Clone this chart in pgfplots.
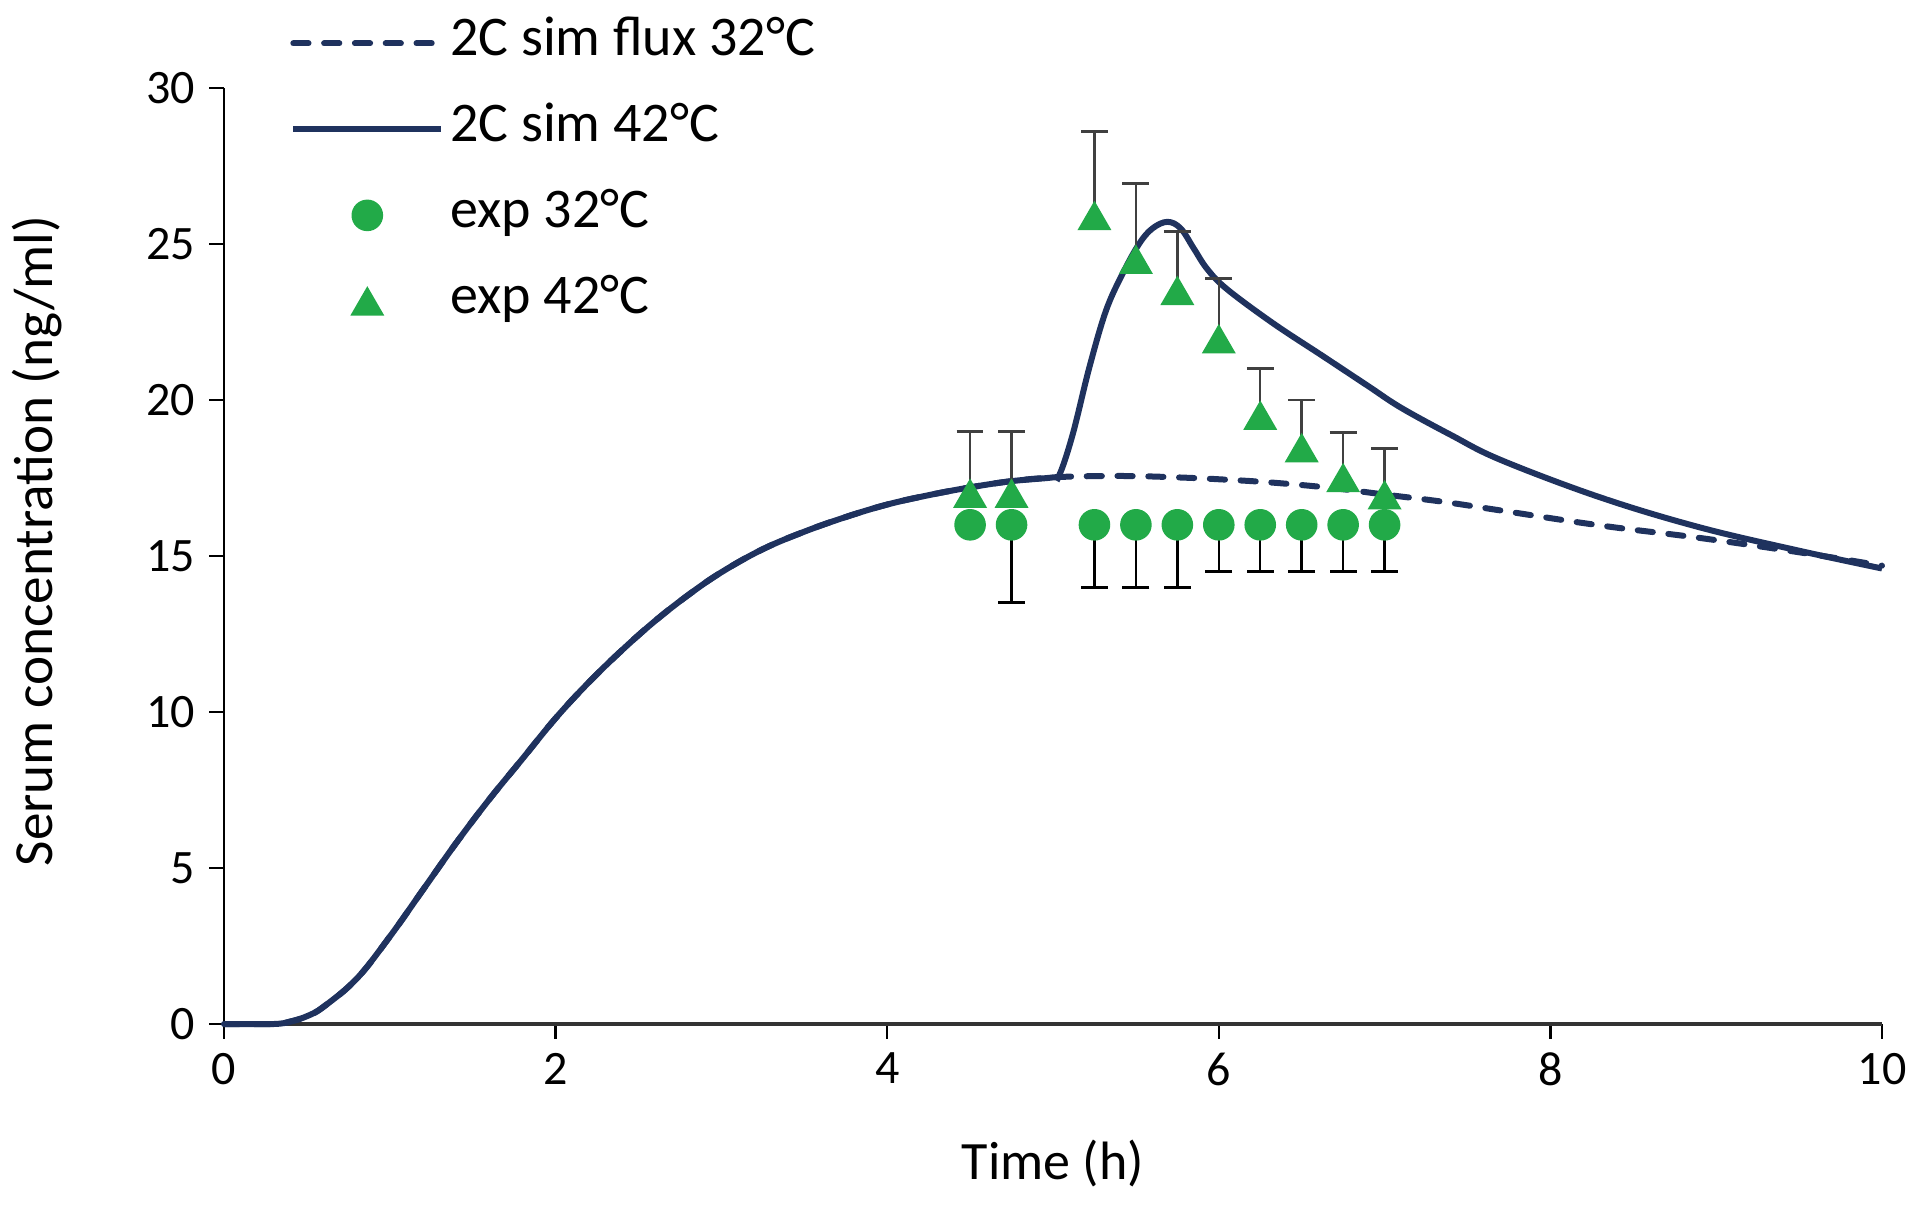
\documentclass[border=0pt]{standalone}
\usepackage{fontspec}
\setmainfont{Carlito}
\usepackage{pgfplots}
\pgfplotsset{compat=1.18}
\definecolor{navy}{RGB}{31,50,94}
\definecolor{mgreen}{RGB}{34,170,72}
\pgfplotsset{
  lineleg/.style={legend image code/.code={\draw[##1] (0pt,0pt) -- (37pt,0pt);}},
  markleg/.style={legend image code/.code={\draw[mark repeat=2,mark phase=2,##1] plot coordinates {(0pt,0pt) (18.5pt,0pt) (37pt,0pt)};}},
}
\begin{document}
\begin{tikzpicture}
\path[use as bounding box] (-56pt,-45pt) rectangle (424pt,256pt);
\begin{axis}[
  at={(0,0)}, anchor=south west,
  width=414.5pt, height=234pt, scale only axis,
  xmin=0, xmax=10, ymin=0, ymax=30,
  axis x line=bottom, axis y line=left,
  axis line style={-, line width=0.6pt},
  x axis line style={line width=1pt, draw=black!80},
  xtick={0,2,...,10}, ytick={0,5,...,30},
  tick align=outside, major tick length=3.7pt,
  tick style={line width=0.6pt, black},
  font=\fontsize{12}{14}\selectfont,
  /pgf/number format/assume math mode=true,
  xlabel={Time (h)}, ylabel={Serum concentration (ng/ml)},
  every axis x label/.style={at={(axis description cs:0.5,0)}, anchor=center, yshift=-34.75pt, font=\fontsize{13.5}{15}\selectfont},
  every axis y label/.style={at={(axis description cs:0,0.516)}, anchor=center, xshift=-46.75pt, rotate=90, font=\fontsize{13.8}{15}\selectfont},
  clip=false,
  legend style={at={(axis cs:0.4,32.2)}, anchor=north west, draw=none, fill=none,
    inner sep=0pt, outer sep=0pt, row sep=9.5pt, column sep=1.5pt,
    nodes={inner sep=0pt, text height=9pt, text depth=3pt, font=\fontsize{14}{15}\selectfont}},
  legend cell align=left,
]
\addplot[navy, line width=1.5pt, line cap=round, dash pattern=on 3.8pt off 3.9pt, smooth, tension=0.7, lineleg] coordinates {
(0,0) (0.3,0) (0.4,0.08) (0.5,0.25) (0.6,0.55) (0.8,1.45) (1.0,2.8) (1.2,4.3) (1.4,5.8)
(1.6,7.2) (1.8,8.5) (2.0,9.8) (2.2,10.95) (2.4,11.98) (2.6,12.92) (2.8,13.75) (3.0,14.48)
(3.25,15.22) (3.5,15.78) (3.75,16.25) (4.0,16.65) (4.25,16.95) (4.5,17.2) (4.75,17.4) (5.0,17.52)
(5.25,17.56) (5.5,17.56) (5.75,17.52) (6.0,17.46) (6.33,17.35) (6.7,17.17) (7.0,16.97)
(7.35,16.74) (7.7,16.46) (8.3,15.98) (8.9,15.58) (9.5,15.12) (10,14.69)};
\addlegendentry{2C sim flux 32°C}
\addplot[navy, line width=1.5pt, smooth, tension=0.6, lineleg] coordinates {
(0,0) (0.3,0) (0.4,0.08) (0.5,0.25) (0.6,0.55) (0.8,1.45) (1.0,2.8) (1.2,4.3) (1.4,5.8)
(1.6,7.2) (1.8,8.5) (2.0,9.8) (2.2,10.95) (2.4,11.98) (2.6,12.92) (2.8,13.75) (3.0,14.48)
(3.25,15.22) (3.5,15.78) (3.75,16.25) (4.0,16.65) (4.25,16.95) (4.5,17.2) (4.75,17.4) (5.0,17.52)
(5.04,17.62) (5.12,18.92) (5.22,21.06) (5.32,22.87) (5.42,24.05) (5.52,25.01) (5.6,25.5)
(5.69,25.71) (5.77,25.5) (5.85,24.85) (5.93,24.2) (6.05,23.55) (6.33,22.45) (6.63,21.4)
(6.9,20.45) (7.1,19.75) (7.4,18.88) (7.7,18.08) (8.3,16.88) (8.9,15.92) (9.5,15.17) (10,14.6)};
\addlegendentry{2C sim 42°C}
\addplot[only marks, mark=*, mark size=3.75pt, mark options={draw=mgreen, fill=mgreen}, markleg,
  error bars/.cd, y dir=minus, y explicit,
  error bar style={line width=0.6pt, black},
  error mark options={line width=0.7pt, black, mark size=3.35pt, rotate=90}]
  coordinates {
(4.5,16) +- (0,0) (4.75,16) +- (0,2.5) (5.25,16) +- (0,2) (5.5,16) +- (0,2) (5.75,16) +- (0,2)
(6.0,16) +- (0,1.5) (6.25,16) +- (0,1.5) (6.5,16) +- (0,1.5) (6.75,16) +- (0,1.5) (7.0,16) +- (0,1.5)};
\addlegendentry{exp 32°C}
\addplot[only marks, mark=triangle*, mark size=4.5pt, mark options={draw=mgreen, fill=mgreen, yshift=-1.1pt}, markleg,
  error bars/.cd, y dir=plus, y explicit,
  error bar style={line width=0.6pt, black!75},
  error mark options={line width=0.7pt, black!75, mark size=3.35pt, rotate=90}]
  coordinates {
(4.5,17) +- (0,2) (4.75,17) +- (0,2) (5.25,25.9) +- (0,2.7) (5.5,24.5) +- (0,2.45) (5.75,23.5) +- (0,1.9)
(6.0,21.95) +- (0,1.95) (6.25,19.5) +- (0,1.5) (6.5,18.46) +- (0,1.54) (6.75,17.5) +- (0,1.45) (7.0,16.95) +- (0,1.5)};
\addlegendentry{exp 42°C}
\end{axis}
\end{tikzpicture}
\end{document}
